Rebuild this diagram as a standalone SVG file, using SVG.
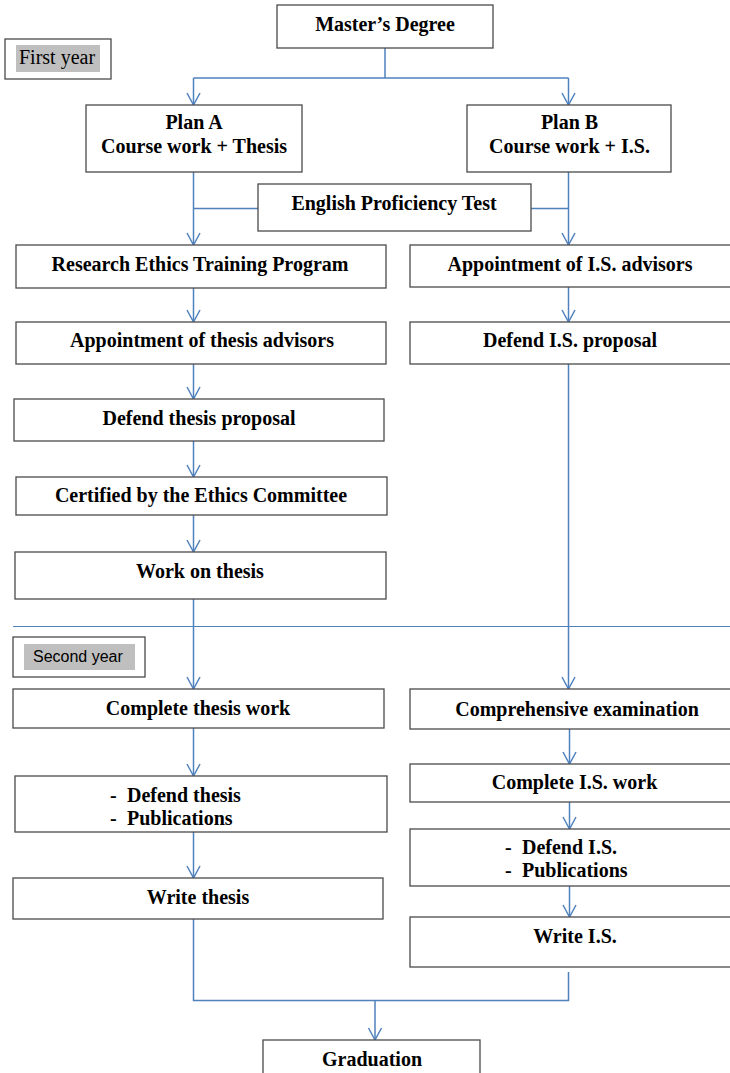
<svg xmlns="http://www.w3.org/2000/svg" width="730" height="1073" viewBox="0 0 730 1073">
<style>
.box{fill:#fff;stroke:#4a4a4a;stroke-width:1.3}
.t{font-family:"Liberation Serif","Times New Roman",serif;font-weight:bold;font-size:20px;fill:#000;text-anchor:middle}
.tl{font-family:"Liberation Serif","Times New Roman",serif;font-weight:bold;font-size:20px;fill:#000}
.c{fill:none;stroke:#4F81BD;stroke-width:1.5}
.gray{fill:#BFBFBF;stroke:none}
</style>
<defs>
<marker id="arr" markerUnits="userSpaceOnUse" viewBox="-13 -8 15 16" markerWidth="15" markerHeight="16" refX="0" refY="0" orient="auto">
<path d="M-12,-6.5 L0,0 L-12,6.5" fill="none" stroke="#4F81BD" stroke-width="1.5"/>
</marker>
</defs>
<rect width="730" height="1073" fill="#fff"/>
<g id="connectors">
<path class="c" d="M385,48 V78 M193.5,78 H568.5"/>
<path class="c" d="M193.5,78 V105" marker-end="url(#arr)"/>
<path class="c" d="M568.5,78 V105" marker-end="url(#arr)"/>
<path class="c" d="M193.5,172 V245" marker-end="url(#arr)"/>
<path class="c" d="M568.5,172 V245" marker-end="url(#arr)"/>
<path class="c" d="M193.5,208.5 H258 M531,208.5 H568.5"/>
<path class="c" d="M193.5,288 V322" marker-end="url(#arr)"/>
<path class="c" d="M568.5,287 V322" marker-end="url(#arr)"/>
<path class="c" d="M193.5,364 V399" marker-end="url(#arr)"/>
<path class="c" d="M193.5,441 V477" marker-end="url(#arr)"/>
<path class="c" d="M193.5,515 V552" marker-end="url(#arr)"/>
<path class="c" d="M193.5,599 V689" marker-end="url(#arr)"/>
<path class="c" d="M568.5,364 V689" marker-end="url(#arr)"/>
<path class="c" d="M13,626.5 H730" style="stroke-width:1.2"/>
<path class="c" d="M193.5,728 V776" marker-end="url(#arr)"/>
<path class="c" d="M193.5,832 V878" marker-end="url(#arr)"/>
<path class="c" d="M569.5,729 V764" marker-end="url(#arr)"/>
<path class="c" d="M569.5,802 V829" marker-end="url(#arr)"/>
<path class="c" d="M569.5,886 V917" marker-end="url(#arr)"/>
<path class="c" d="M193.5,919 V1000.5 H568.5 V972"/>
<path class="c" d="M375,1000.5 V1040" marker-end="url(#arr)"/>
</g>
<g id="first-year">
<rect class="box" x="5" y="39" width="106" height="40"/>
<rect class="gray" x="16" y="45" width="84" height="27"/>
<text x="19" y="64" style="font-family:'Liberation Serif','Times New Roman',serif;font-size:20px;fill:#000">First year</text>
</g>
<g id="masters">
<rect class="box" x="277" y="5" width="216" height="43"/>
<text class="t" x="385" y="31">Master’s Degree</text>
</g>
<g id="plan-a">
<rect class="box" x="86" y="105" width="216" height="67"/>
<text class="t" x="194" y="129">Plan A</text>
<text class="t" x="194" y="153">Course work + Thesis</text>
</g>
<g id="plan-b">
<rect class="box" x="467" y="105" width="204" height="67"/>
<text class="t" x="569.5" y="129">Plan B</text>
<text class="t" x="569.5" y="153">Course work + I.S.</text>
</g>
<g id="english">
<rect class="box" x="258" y="184" width="273" height="47"/>
<text class="t" x="394" y="210">English Proficiency Test</text>
</g>
<g id="research-ethics">
<rect class="box" x="16" y="245" width="370" height="43"/>
<text class="t" x="200" y="271">Research Ethics Training Program</text>
</g>
<g id="appoint-is">
<rect class="box" x="410" y="245" width="325" height="42"/>
<text class="t" x="570" y="271">Appointment of I.S. advisors</text>
</g>
<g id="appoint-thesis">
<rect class="box" x="16" y="322" width="370" height="42"/>
<text class="t" x="202" y="347">Appointment of thesis advisors</text>
</g>
<g id="defend-is-proposal">
<rect class="box" x="410" y="322" width="325" height="42"/>
<text class="t" x="570" y="347">Defend I.S. proposal</text>
</g>
<g id="defend-thesis-proposal">
<rect class="box" x="14" y="399" width="370" height="42"/>
<text class="t" x="199" y="425">Defend thesis proposal</text>
</g>
<g id="certified">
<rect class="box" x="16" y="477" width="371" height="38"/>
<text class="t" x="201" y="502">Certified by the Ethics Committee</text>
</g>
<g id="work-thesis">
<rect class="box" x="15" y="552" width="371" height="47"/>
<text class="t" x="200" y="578">Work on thesis</text>
</g>
<g id="second-year">
<rect class="box" x="13" y="637" width="132" height="40"/>
<rect class="gray" x="24" y="644" width="111" height="26"/>
<text x="33" y="662" style="font-family:'Liberation Sans',Arial,sans-serif;font-size:16px;fill:#000">Second year</text>
</g>
<g id="complete-thesis">
<rect class="box" x="13" y="689" width="371" height="39"/>
<text class="t" x="198" y="715">Complete thesis work</text>
</g>
<g id="comprehensive">
<rect class="box" x="410" y="689" width="325" height="40"/>
<text class="t" x="577" y="716">Comprehensive examination</text>
</g>
<g id="complete-is">
<rect class="box" x="410" y="764" width="325" height="38"/>
<text class="t" x="574.5" y="789">Complete I.S. work</text>
</g>
<g id="defend-thesis">
<rect class="box" x="15" y="776" width="372" height="56"/>
<text class="tl" y="802"><tspan x="110">-</tspan><tspan x="127">Defend thesis</tspan></text>
<text class="tl" y="825"><tspan x="110">-</tspan><tspan x="127">Publications</tspan></text>
</g>
<g id="defend-is">
<rect class="box" x="410" y="829" width="325" height="57"/>
<text class="tl" y="854"><tspan x="505">-</tspan><tspan x="522">Defend I.S.</tspan></text>
<text class="tl" y="877"><tspan x="505">-</tspan><tspan x="522">Publications</tspan></text>
</g>
<g id="write-thesis">
<rect class="box" x="13" y="878" width="370" height="41"/>
<text class="t" x="198" y="904">Write thesis</text>
</g>
<g id="write-is">
<rect class="box" x="410" y="917" width="325" height="50"/>
<text class="t" x="575" y="943">Write I.S.</text>
</g>
<g id="graduation">
<rect class="box" x="263" y="1040" width="217" height="45"/>
<text class="t" x="372" y="1066">Graduation</text>
</g>
</svg>
